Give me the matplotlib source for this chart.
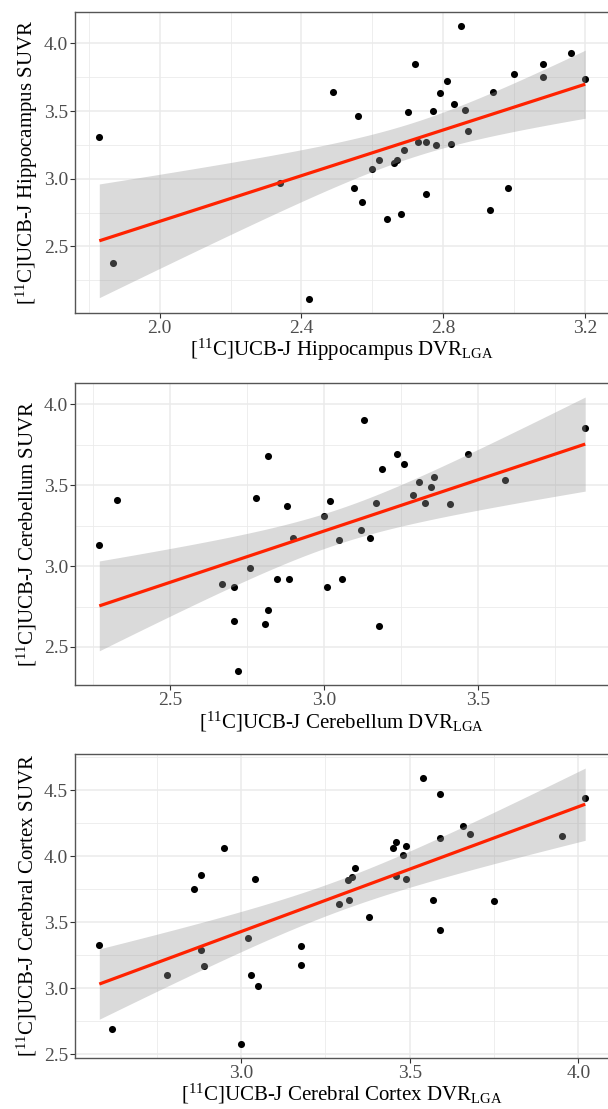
import numpy as np
import matplotlib
matplotlib.use("Agg")
import matplotlib.pyplot as plt
from matplotlib.ticker import FixedLocator

# ---------------- data ----------------
hippo_dvr = [1.830, 1.869, 2.340, 2.420, 2.490, 2.549, 2.559, 2.570, 2.600, 2.620,
             2.641, 2.660, 2.670, 2.680, 2.690, 2.700, 2.720, 2.729, 2.750, 2.751,
             2.770, 2.780, 2.790, 2.810, 2.821, 2.830, 2.851, 2.860, 2.870, 2.931,
             2.940, 2.981, 3.000, 3.081, 3.081, 3.161, 3.200]
hippo_suvr = [3.31, 2.38, 2.97, 2.11, 3.64, 2.93, 3.46, 2.83, 3.07, 3.14,
              2.70, 3.12, 3.14, 2.74, 3.21, 3.49, 3.85, 3.27, 3.27, 2.89,
              3.50, 3.25, 3.63, 3.72, 3.26, 3.55, 4.13, 3.51, 3.35, 2.77,
              3.64, 2.93, 3.77, 3.85, 3.75, 3.93, 3.74]

cereb_dvr = [2.271, 2.329, 2.670, 2.709, 2.709, 2.720, 2.760, 2.780, 2.810, 2.819,
             2.819, 2.849, 2.879, 2.888, 2.899, 2.999, 3.009, 3.019, 3.049, 3.059,
             3.119, 3.129, 3.149, 3.169, 3.178, 3.188, 3.238, 3.259, 3.289, 3.308,
             3.328, 3.348, 3.358, 3.409, 3.468, 3.588, 3.848]
cereb_suvr = [3.13, 3.41, 2.89, 2.87, 2.66, 2.35, 2.99, 3.42, 2.64, 3.68,
              2.73, 2.92, 3.37, 2.92, 3.17, 3.31, 2.87, 3.40, 3.16, 2.92,
              3.22, 3.90, 3.17, 3.39, 2.63, 3.60, 3.69, 3.63, 3.44, 3.52,
              3.39, 3.49, 3.55, 3.38, 3.69, 3.53, 3.85]

cortex_dvr = [2.580, 2.619, 2.780, 2.860, 2.880, 2.880, 2.889, 2.949, 3.000, 3.021,
              3.029, 3.040, 3.050, 3.179, 3.179, 3.290, 3.318, 3.319, 3.328, 3.339,
              3.379, 3.449, 3.459, 3.459, 3.479, 3.490, 3.490, 3.540, 3.569, 3.589,
              3.590, 3.590, 3.659, 3.680, 3.750, 3.950, 4.020]
cortex_suvr = [3.33, 2.69, 3.10, 3.75, 3.86, 3.29, 3.17, 4.06, 2.58, 3.38,
               3.10, 3.83, 3.02, 3.32, 3.18, 3.64, 3.82, 3.67, 3.84, 3.91,
               3.54, 4.06, 4.11, 3.85, 4.01, 4.08, 3.83, 4.59, 3.67, 4.14,
               4.47, 3.44, 4.23, 4.17, 3.66, 4.15, 4.44]

regions = ["Hippocampus", "Cerebellum", "Cerebral Cortex"]
x_ticks = [[2.0, 2.4, 2.8, 3.2], [2.5, 3.0, 3.5], [3.0, 3.5, 4.0]]
y_ticks = [[2.5, 3.0, 3.5, 4.0], [2.5, 3.0, 3.5, 4.0], [2.5, 3.0, 3.5, 4.0, 4.5]]
x_tick_labels = [["2.0", "2.4", "2.8", "3.2"], ["2.5", "3.0", "3.5"], ["3.0", "3.5", "4.0"]]
y_tick_labels = [["2.5", "3.0", "3.5", "4.0"], ["2.5", "3.0", "3.5", "4.0"],
                 ["2.5", "3.0", "3.5", "4.0", "4.5"]]

# ---------------- style ----------------
plt.rcParams['font.family'] = ['Liberation Serif', 'DejaVu Serif']
plt.rcParams['mathtext.fontset'] = 'custom'
plt.rcParams['mathtext.rm'] = 'Liberation Serif'
plt.rcParams['mathtext.it'] = 'Liberation Serif:italic'
plt.rcParams['mathtext.bf'] = 'Liberation Serif:bold'


def t_quantile(df, z=1.959963985):
    g1 = (z**3 + z) / 4
    g2 = (5*z**5 + 16*z**3 + 3*z) / 96
    g3 = (3*z**7 + 19*z**5 + 17*z**3 - 15*z) / 384
    g4 = (79*z**9 + 776*z**7 + 1482*z**5 - 1920*z**3 - 945*z) / 92160
    return z + g1/df + g2/df**2 + g3/df**3 + g4/df**4


def lm_band(x, y, n=80):
    x = np.asarray(x, float)
    y = np.asarray(y, float)
    N = len(x)
    b, a = np.polyfit(x, y, 1)
    resid = y - (a + b * x)
    s = np.sqrt(np.sum(resid**2) / (N - 2))
    xm = x.mean()
    sxx = np.sum((x - xm)**2)
    xs = np.linspace(x.min(), x.max(), n)
    fit = a + b * xs
    se = s * np.sqrt(1.0 / N + (xs - xm)**2 / sxx)
    t = t_quantile(N - 2)
    return xs, fit, fit - t * se, fit + t * se


W, H = 608, 1109
DPI = 100
fig = plt.figure(figsize=(W / DPI, H / DPI), dpi=DPI)

panels = [
    (hippo_dvr, hippo_suvr, 12, 313),
    (cereb_dvr, cereb_suvr, 383.3, 685),
    (cortex_dvr, cortex_suvr, 754.3, 1057.6),
]
left_px, right_px = 75, 609.5

for i, (xd, yd, top_px, bot_px) in enumerate(panels):
    ax = fig.add_axes([left_px / W, 1 - bot_px / H,
                       (right_px - left_px) / W, (bot_px - top_px) / H])
    xs, fit, lo, hi = lm_band(xd, yd)
    ax.scatter(xd, yd, s=26, color='black', linewidths=0, zorder=3)
    ax.fill_between(xs, lo, hi, color='#999999', alpha=0.36, linewidth=0, zorder=4)
    ax.plot(xs, fit, color='#FF2200', lw=2.3, zorder=5, solid_capstyle='butt')

    xmin, xmax = min(xd), max(xd)
    xr = xmax - xmin
    ax.set_xlim(xmin - 0.05 * xr, xmax + 0.05 * xr)
    ymin = min(min(yd), lo.min())
    ymax = max(max(yd), hi.max())
    yr = ymax - ymin
    ax.set_ylim(ymin - 0.05 * yr, ymax + 0.05 * yr)

    xt = x_ticks[i]
    yt = y_ticks[i]
    ax.xaxis.set_major_locator(FixedLocator(xt))
    ax.yaxis.set_major_locator(FixedLocator(yt))
    ax.set_xticklabels(x_tick_labels[i])
    ax.set_yticklabels(y_tick_labels[i])
    dx = (xt[1] - xt[0]) / 2
    dy = (yt[1] - yt[0]) / 2
    ax.xaxis.set_minor_locator(FixedLocator(np.arange(xt[0] - 3 * dx, xt[-1] + 4 * dx, 2 * dx)))
    ax.yaxis.set_minor_locator(FixedLocator(np.arange(yt[0] - 3 * dy, yt[-1] + 4 * dy, 2 * dy)))
    ax.grid(True, which='major', color='#EBEBEB', lw=1.1, zorder=0)
    ax.grid(True, which='minor', color='#EBEBEB', lw=0.6, zorder=0)
    ax.set_axisbelow(True)
    ax.tick_params(which='major', length=3.5, width=0.8, color='#333333',
                   labelsize=14, labelcolor='#4D4D4D', pad=1.5)
    ax.tick_params(which='minor', length=0)
    for sp in ax.spines.values():
        sp.set_color('#555555')
        sp.set_linewidth(1.0)

    cx = (left_px + 608) / 2 / W
    fig.text(cx, 1 - (bot_px + 36.5) / H,
             r'[$^{11}$C]UCB-J ' + regions[i] + r' DVR$_{\mathrm{LGA}}$',
             ha='center', va='center', fontsize=15, color='black')
    fig.text(27 / W, 1 - ((top_px + bot_px) / 2) / H,
             r'[$^{11}$C]UCB-J ' + regions[i] + ' SUVR',
             ha='center', va='center', rotation=90, fontsize=15, color='black')

fig.savefig('out.png', dpi=DPI)
